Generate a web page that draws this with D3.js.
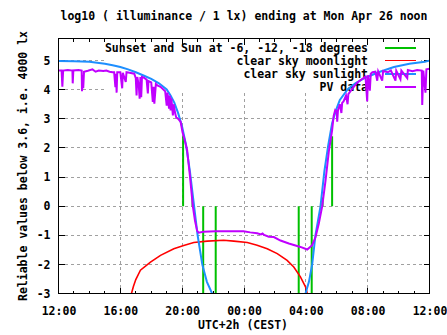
<!DOCTYPE html>
<html><head><meta charset="utf-8">
<script src="https://cdn.jsdelivr.net/npm/d3@7"></script>
<style>
body{margin:0;background:#fff;}
text{font-family:"DejaVu Sans Mono",monospace;font-weight:bold;font-size:11.5px;fill:#000;}
</style></head>
<body><svg id="c" width="447" height="335"></svg>
<script>
// time axis: hours after Sun 12:00 (CEST)
const xTickHours = [0, 4, 8, 12, 16, 20, 24];
const xTickLabels = ["12:00", "16:00", "20:00", "00:00", "04:00", "08:00", "12:00"];
const yTicks = [-3, -2, -1, 0, 1, 2, 3, 4, 5];
const titleText = "log10 ( illuminance / 1 lx) ending at Mon Apr 26 noon";
const xTitle = "UTC+2h (CEST)";
const yTitle = "Reliable values below 3.6, i.e. 4000 lx";
const legendLabels = ["Sunset and Sun at -6, -12, -18 degrees", "clear sky moonlight", "clear sky sunlight", "PV data"];

// sunset / twilight markers
const markerHours = [8.06, 8.67, 9.36, 10.17, 15.54, 16.38, 17.08, 17.70];
const markerTop =   [2.4, 0.3, 0, 0, 0, 0, 0.3, 2.4];
const markerBottom = [0, 0, -3, -3, -3, -3, 0, 0];

// clear sky moonlight
const moonHours = [4.6, 4.72, 4.85, 5.0, 5.3, 5.95, 6.6, 7.46, 8.1, 8.75, 9.62, 10.69, 11.34, 12.21, 12.85, 13.5, 14.15, 14.79, 15.22, 15.65, 15.98, 16.09, 16.2];
const moonValues = [-3.3, -3.0, -2.75, -2.52, -2.2, -1.92, -1.69, -1.46, -1.35, -1.25, -1.2, -1.17, -1.2, -1.25, -1.34, -1.46, -1.63, -1.86, -2.09, -2.43, -2.77, -3.0, -3.3];

// clear sky sunlight
const sunHours = [0, 1, 2, 3, 3.5, 4, 4.5, 5, 5.5, 6, 6.5, 7, 7.25, 7.5, 7.75, 8.0, 8.25, 8.5, 8.75, 9.0, 9.3, 9.6, 9.94, 10.2,
                  15.7, 15.98, 16.2, 16.41, 16.62, 16.95, 17.2, 17.45, 17.7, 17.95, 18.2, 18.7, 19.2, 19.7, 20.2, 20.7, 21.7, 22.7, 23.7, 24];
const sunValues = [4.99, 4.98, 4.96, 4.89, 4.84, 4.78, 4.70, 4.60, 4.49, 4.37, 4.22, 4.01, 3.80, 3.55, 3.18, 2.72, 2.1, 1.2, 0.1, -1.0, -2.0, -2.6, -3.0, -3.6,
                  -3.6, -3.0, -2.6, -2.0, -1.0, 0.0, 1.2, 2.1, 2.85, 3.3, 3.65, 4.01, 4.22, 4.37, 4.49, 4.6, 4.78, 4.89, 4.96, 5.0];

// PV data [hour, value]
const pvData = [
 [0,4.66],[0.2,4.66],[0.25,4.1],[0.3,4.66],[0.6,4.68],[0.9,4.66],[0.92,4.22],[0.96,4.66],[1.3,4.68],[1.5,4.66],
 [1.52,3.95],[1.56,4.5],[1.6,4.05],[1.65,4.62],[1.9,4.65],[2.2,4.7],[2.4,4.62],[2.6,4.66],[2.9,4.64],[3.1,4.66],
 [3.3,4.62],[3.5,4.6],[3.6,4.6],[3.68,4.09],[3.72,4.55],[3.76,3.9],[3.8,4.6],[4.0,4.6],[4.12,4.05],[4.16,4.58],
 [4.35,4.27],[4.4,4.6],[4.6,4.58],[4.9,4.55],[5.0,4.4],[5.05,3.8],[5.1,4.44],[5.2,4.1],[5.25,3.69],[5.3,4.44],
 [5.35,3.74],[5.4,4.44],[5.5,4.42],[5.7,4.35],[5.78,3.87],[5.82,4.3],[6.0,4.25],[6.1,3.58],[6.15,4.1],[6.2,3.52],
 [6.3,4.2],[6.4,4.15],[6.6,4.1],[6.9,3.95],[7.0,3.45],[7.05,3.9],[7.15,3.35],[7.2,3.8],[7.25,3.29],[7.3,3.7],
 [7.4,3.12],[7.45,3.5],[7.55,3.18],[7.62,3.04],[7.75,3.0],[7.9,2.9],[8.02,2.55],[8.15,2.3],[8.32,1.93],[8.5,1.05],
 [8.69,0.0],[8.83,-0.5],[8.97,-0.85],[9.06,-0.91],[9.38,-0.88],[10.16,-0.86],[11.97,-0.86],[12.4,-0.9],[12.85,-0.93],
 [13.1,-0.97],[13.2,-0.94],[13.3,-0.99],[13.6,-1.05],[13.93,-1.06],[14.36,-1.18],[14.9,-1.28],[15.65,-1.4],[16.09,-1.49],
 [16.41,-1.34],[16.63,-1.06],[16.84,-0.6],[17.06,0.0],[17.27,0.86],[17.49,1.89],[17.7,2.6],[17.8,3.1],[17.9,3.3],
 [18.0,3.25],[18.03,2.9],[18.08,3.3],[18.2,3.5],[18.3,3.2],[18.35,3.55],[18.44,3.6],[18.6,3.8],[18.7,3.5],[18.75,3.85],
 [18.89,3.95],[19.1,4.1],[19.34,4.25],[19.6,4.35],[19.86,4.45],[19.97,3.6],[20.02,4.5],[20.14,3.97],[20.2,4.55],
 [20.31,4.6],[20.5,4.62],[20.62,4.31],[20.68,4.63],[20.94,4.31],[21.0,4.64],[21.3,4.6],[21.5,4.66],[21.8,4.31],
 [21.85,4.65],[22.12,4.36],[22.18,4.66],[22.56,4.4],[22.6,4.68],[22.9,4.64],[23.2,4.68],[23.5,4.66],[23.53,3.48],
 [23.6,4.66],[23.74,3.9],[23.8,4.7],[24,4.72]
];

const svg = d3.select("#c");
const L = 58.5, R = 429.5, T = 38.5, B = 293.5;
const x = d3.scaleLinear().domain([0, 24]).range([L, R]);
const y = d3.scaleLinear().domain([-3, 5.76]).range([B, T]);

// grid
const grid = svg.append("g").attr("stroke", "#a0a0a0").attr("stroke-dasharray", "3,3").attr("shape-rendering", "crispEdges");
xTickHours.slice(1, -1).forEach(h => grid.append("line").attr("x1", x(h)).attr("x2", x(h)).attr("y1", B).attr("y2", T));
yTicks.slice(1).forEach(v => grid.append("line").attr("x1", L).attr("x2", R).attr("y1", y(v)).attr("y2", y(v)));

// legend background
svg.append("rect").attr("x", 104).attr("y", T + 0.5).attr("width", 317).attr("height", 54).attr("fill", "#fff");

// ticks
const tk = svg.append("g").attr("stroke", "#000").attr("shape-rendering", "crispEdges");
d3.range(0, 25).forEach(h => {
  const len = (h % 4 === 0) ? 6 : 3;
  tk.append("line").attr("x1", x(h)).attr("x2", x(h)).attr("y1", B).attr("y2", B - len);
  tk.append("line").attr("x1", x(h)).attr("x2", x(h)).attr("y1", T).attr("y2", T + len);
});
yTicks.forEach(v => {
  tk.append("line").attr("x1", L).attr("x2", L + 6).attr("y1", y(v)).attr("y2", y(v));
  tk.append("line").attr("x1", R).attr("x2", R - 6).attr("y1", y(v)).attr("y2", y(v));
});

// axes labels via d3 axes
const xAxis = svg.append("g").attr("transform", `translate(0,${B})`)
  .call(d3.axisBottom(x).tickValues(xTickHours).tickFormat((d, i) => xTickLabels[i]).tickSize(0).tickPadding(13));
const yAxis = svg.append("g").attr("transform", `translate(${L},0)`)
  .call(d3.axisLeft(y).tickValues(yTicks).tickFormat(d3.format("d")).tickSize(0).tickPadding(8));
[xAxis, yAxis].forEach(a => { a.select(".domain").remove(); a.selectAll("text").attr("font-family", null).attr("font-size", null); });
yAxis.selectAll("text").text(d => d < 0 ? "-" + Math.abs(d) : String(d));

// titles
svg.append("text").attr("x", 244).attr("y", 20).attr("text-anchor", "middle").text(titleText);
svg.append("text").attr("x", 243).attr("y", 329).attr("text-anchor", "middle").text(xTitle);
svg.append("text").attr("transform", `translate(27,${(T + B) / 2}) rotate(-90)`).attr("text-anchor", "middle").text(yTitle);

// legend
const colors = ["#00c000", "#ff0000", "#1e8fff", "#c000ff"];
const rowsY = [47.5, 60.5, 73.5, 86.5];
legendLabels.forEach((lab, i) => {
  svg.append("text").attr("x", 368).attr("y", rowsY[i] + 4).attr("text-anchor", "end").text(lab);
  svg.append("line").attr("x1", 385).attr("x2", 416).attr("y1", rowsY[i]).attr("y2", rowsY[i])
    .attr("stroke", colors[i]).attr("stroke-width", i === 1 ? 1.6 : 2).attr("shape-rendering", "crispEdges");
});

// clip
svg.append("clipPath").attr("id", "pc").append("rect").attr("x", L).attr("y", T).attr("width", R - L).attr("height", B - T);
const plot = svg.append("g").attr("clip-path", "url(#pc)");

// green markers
markerHours.forEach((h, i) => {
  plot.append("line").attr("x1", x(h)).attr("x2", x(h)).attr("y1", y(markerTop[i])).attr("y2", y(markerBottom[i]))
    .attr("stroke", colors[0]).attr("stroke-width", 2);
});

const line = d3.line().x(d => x(d[0])).y(d => y(d[1]));
// moon
plot.append("path").datum(moonHours.map((h, i) => [h, moonValues[i]])).attr("d", line)
  .attr("fill", "none").attr("stroke", colors[1]).attr("stroke-width", 1.6);
// sun (two branches)
const sunPts = sunHours.map((h, i) => [h, sunValues[i]]);
plot.append("path").datum(sunPts.slice(0, 24)).attr("d", line).attr("fill", "none").attr("stroke", colors[2]).attr("stroke-width", 2);
plot.append("path").datum(sunPts.slice(24)).attr("d", line).attr("fill", "none").attr("stroke", colors[2]).attr("stroke-width", 2);
// PV
plot.append("path").datum(pvData).attr("d", line).attr("fill", "none").attr("stroke", colors[3]).attr("stroke-width", 2).attr("stroke-linejoin", "miter");

// border
svg.append("rect").attr("x", L).attr("y", T).attr("width", R - L).attr("height", B - T)
  .attr("fill", "none").attr("stroke", "#000").attr("shape-rendering", "crispEdges");
</script></body></html>
